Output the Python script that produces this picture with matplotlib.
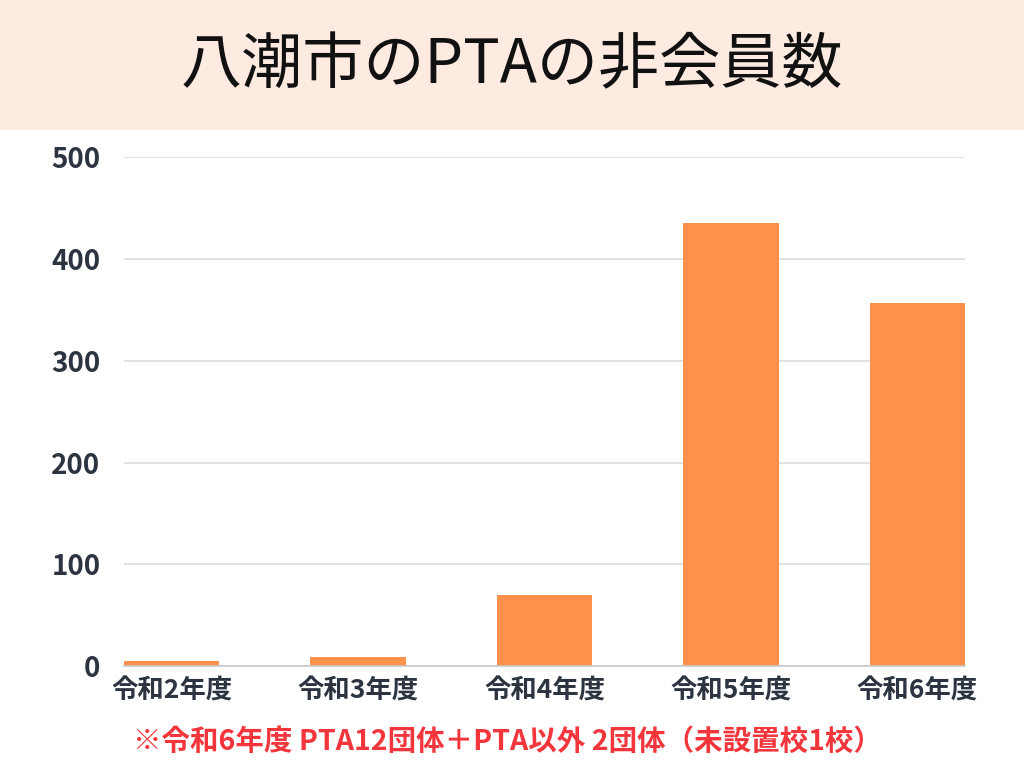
import numpy as np
import matplotlib.pyplot as plt
from matplotlib.patches import Rectangle

plt.rcParams['font.family'] = ['Noto Sans CJK JP', 'DejaVu Sans']

# データ
nendo = ['令和2年度', '令和3年度', '令和4年度', '令和5年度', '令和6年度']
hikaiin = [5, 9, 70, 435, 357]
y_ticks = [0, 100, 200, 300, 400, 500]
title = '八潮市のPTAの非会員数'
note = '※令和6年度 PTA12団体＋PTA以外 2団体（未設置校1校）'

fig = plt.figure(figsize=(10.24, 7.68), dpi=100)
fig.patch.set_facecolor('white')
# タイトルの帯
fig.patches.append(Rectangle((0, 1 - 130 / 768), 1, 130 / 768, transform=fig.transFigure,
                             facecolor='#FDEAE0', edgecolor='none', zorder=0))
fig.text(0.5, 1 - 66 / 768, title, ha='center', va='center', fontsize=44,
         color='#111111', fontweight='normal')

ax = fig.add_axes([124 / 1024, 1 - 666.3 / 768, (965 - 124) / 1024, (666.3 - 157) / 768])
x = np.arange(len(nendo))
w = 0.51
ax.bar(x, hikaiin, width=w, color='#FF914D', zorder=3)
ax.set_xlim(-w / 2, len(nendo) - 1 + w / 2)
ax.set_ylim(0, 500)
ax.set_yticks(y_ticks)
ax.set_yticklabels([str(v) for v in y_ticks], fontsize=20, fontweight='bold', color='#2B3440')
ax.set_xticks(x)
ax.set_xticklabels(nendo, fontsize=19, fontweight='bold', color='#2B3440')
ax.tick_params(axis='both', length=0)
ax.tick_params(axis='y', pad=17)
ax.tick_params(axis='x', pad=8)
ax.grid(True, axis='y', color='#DDDDDD', linewidth=1.2, zorder=0)
for s in ['top', 'right', 'left']:
    ax.spines[s].set_visible(False)
ax.spines['bottom'].set_color('#C8C8C8')
ax.spines['bottom'].set_linewidth(1.2)
ax.spines['bottom'].set_zorder(4)

fig.text(0.496, 1 - 742 / 768, note, ha='center', va='center', fontsize=20.5,
         fontweight='bold', color='#F2363C')

fig.savefig('out.png', dpi=100)
